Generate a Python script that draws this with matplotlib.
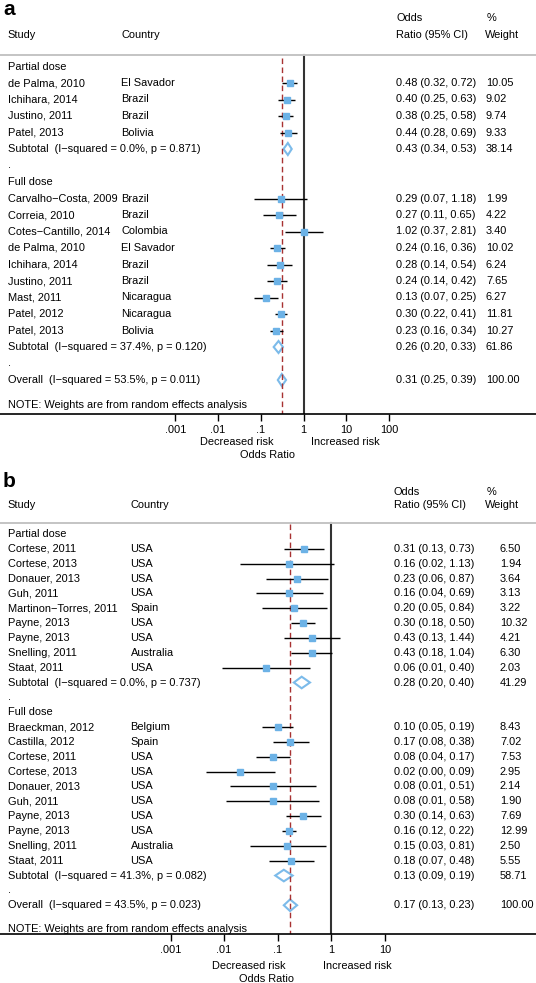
import numpy as np
import matplotlib
matplotlib.use('Agg')
import matplotlib.pyplot as plt
from matplotlib.patches import Polygon
from matplotlib.transforms import blended_transform_factory

plt.rcParams['font.family'] = ['Liberation Sans', 'DejaVu Sans']
plt.rcParams['font.size'] = 7.9

W, H = 536, 983

# ---- panel a ----
a_part_study = ['de Palma, 2010', 'Ichihara, 2014', 'Justino, 2011', 'Patel, 2013']
a_part_country = ['El Savador', 'Brazil', 'Brazil', 'Bolivia']
a_part_or = [0.48, 0.40, 0.38, 0.44]
a_part_lo = [0.32, 0.25, 0.25, 0.28]
a_part_hi = [0.72, 0.63, 0.58, 0.69]
a_part_wt = [10.05, 9.02, 9.74, 9.33]
a_part_sub = [0.43, 0.34, 0.53, 38.14]
a_part_het = ['0.0%', '0.871']

a_full_study = ['Carvalho\u2212Costa, 2009', 'Correia, 2010', 'Cotes\u2212Cantillo, 2014',
                'de Palma, 2010', 'Ichihara, 2014', 'Justino, 2011', 'Mast, 2011',
                'Patel, 2012', 'Patel, 2013']
a_full_country = ['Brazil', 'Brazil', 'Colombia', 'El Savador', 'Brazil', 'Brazil',
                  'Nicaragua', 'Nicaragua', 'Bolivia']
a_full_or = [0.29, 0.27, 1.02, 0.24, 0.28, 0.24, 0.13, 0.30, 0.23]
a_full_lo = [0.07, 0.11, 0.37, 0.16, 0.14, 0.14, 0.07, 0.22, 0.16]
a_full_hi = [1.18, 0.65, 2.81, 0.36, 0.54, 0.42, 0.25, 0.41, 0.34]
a_full_wt = [1.99, 4.22, 3.40, 10.02, 6.24, 7.65, 6.27, 11.81, 10.27]
a_full_sub = [0.26, 0.20, 0.33, 61.86]
a_full_het = ['37.4%', '0.120']

a_overall = [0.31, 0.25, 0.39, 100.00]
a_overall_het = ['53.5%', '0.011']
a_ticks = [0.001, 0.01, 0.1, 1, 10, 100]
a_ticklabels = ['.001', '.01', '.1', '1', '10', '100']

# ---- panel b ----
b_part_study = ['Cortese, 2011', 'Cortese, 2013', 'Donauer, 2013', 'Guh, 2011',
                'Martinon\u2212Torres, 2011', 'Payne, 2013', 'Payne, 2013',
                'Snelling, 2011', 'Staat, 2011']
b_part_country = ['USA', 'USA', 'USA', 'USA', 'Spain', 'USA', 'USA', 'Australia', 'USA']
b_part_or = [0.31, 0.16, 0.23, 0.16, 0.20, 0.30, 0.43, 0.43, 0.06]
b_part_lo = [0.13, 0.02, 0.06, 0.04, 0.05, 0.18, 0.13, 0.18, 0.009]
b_part_hi = [0.73, 1.13, 0.87, 0.69, 0.84, 0.50, 1.44, 1.04, 0.40]
b_part_wt = [6.50, 1.94, 3.64, 3.13, 3.22, 10.32, 4.21, 6.30, 2.03]
b_part_sub = [0.28, 0.20, 0.40, 41.29]
b_part_het = ['0.0%', '0.737']

b_full_study = ['Braeckman, 2012', 'Castilla, 2012', 'Cortese, 2011', 'Cortese, 2013',
                'Donauer, 2013', 'Guh, 2011', 'Payne, 2013', 'Payne, 2013',
                'Snelling, 2011', 'Staat, 2011']
b_full_country = ['Belgium', 'Spain', 'USA', 'USA', 'USA', 'USA', 'USA', 'USA',
                  'Australia', 'USA']
b_full_or = [0.10, 0.17, 0.08, 0.02, 0.08, 0.08, 0.30, 0.16, 0.15, 0.18]
b_full_lo = [0.05, 0.08, 0.04, 0.0045, 0.013, 0.011, 0.14, 0.12, 0.03, 0.07]
b_full_hi = [0.19, 0.38, 0.17, 0.09, 0.51, 0.58, 0.63, 0.22, 0.81, 0.48]
b_full_wt = [8.43, 7.02, 7.53, 2.95, 2.14, 1.90, 7.69, 12.99, 2.50, 5.55]
b_full_sub = [0.13, 0.09, 0.19, 58.71]
b_full_het = ['41.3%', '0.082']

b_overall = [0.17, 0.13, 0.23, 100.00]
b_overall_het = ['43.5%', '0.023']
b_ticks = [0.001, 0.01, 0.1, 1, 10]
b_ticklabels = ['.001', '.01', '.1', '1', '10']

SQ = '#6cb2e6'
DIA = '#7cbbea'
RED = '#a83232'

fig = plt.figure(figsize=(W / 100, H / 100), dpi=100)


def fmt_or(e, l, h):
    return f'{e:.2f} ({l:.2f}, {h:.2f})'


def draw_panel(label, groups, overall, overall_het, ticks, ticklabels, g):
    top, axis_y = g['top'], g['axis']
    ax = fig.add_axes([0, 1 - axis_y / H, 1, (axis_y - top) / H])
    ax.set_xscale('log')
    ax.set_xlim(10 ** ((0 - g['x1']) / g['dec']), 10 ** ((W - g['x1']) / g['dec']))
    r_top = (top - g['y0']) / g['dy']
    r_bot = (axis_y - g['y0']) / g['dy']
    ax.set_ylim(r_bot, r_top)
    for s in ['top', 'left', 'right']:
        ax.spines[s].set_visible(False)
    ax.spines['bottom'].set_linewidth(1.2)
    ax.set_yticks([])
    ax.set_xticks(ticks)
    ax.set_xticklabels(ticklabels)
    ax.minorticks_off()
    ax.tick_params(axis='x', direction='out', length=5, width=1, pad=3, labelsize=7.9)

    tr = blended_transform_factory(fig.transFigure, ax.transData)
    cx = lambda px: px / W

    def txt(px, r, s, **kw):
        ax.text(cx(px), r, s, transform=tr, va='center', ha='left', **kw)

    # header
    r_odds = (g['odds_y'] - g['y0']) / g['dy']
    r_study = (g['study_y'] - g['y0']) / g['dy']
    txt(g['c_study'], r_study, 'Study')
    txt(g['c_country'], r_study, 'Country')
    txt(g['c_or'], r_odds, 'Odds')
    txt(g['c_or'], r_study, 'Ratio (95% CI)')
    txt(g['c_pct'], r_odds, '%')
    txt(g['c_whead'], r_study, 'Weight')
    r_sep = (g['sep'] - g['y0']) / g['dy']
    ax.axhline(r_sep, color='#c4c4c4', lw=1.4, clip_on=False)

    hd = g['dh'] / g['dy']
    r = 0
    for name, st, co, e, l, h, w, sub, het in groups:
        txt(g['c_study'], r, name)
        r += 1
        for i in range(len(st)):
            txt(g['c_study'], r, st[i])
            txt(g['c_country'], r, co[i])
            txt(g['c_or'], r, fmt_or(e[i], l[i], h[i]))
            txt(g['c_w'], r, f'{w[i]:.2f}')
            ax.plot([l[i], h[i]], [r, r], color='black', lw=1.0, solid_capstyle='butt')
            ax.plot(e[i], r, marker='s', ms=3.8, color=SQ, mec=SQ)
            r += 1
        txt(g['c_study'], r, f'Subtotal  (I\u2212squared = {het[0]}, p = {het[1]})')
        txt(g['c_or'], r, fmt_or(sub[0], sub[1], sub[2]))
        txt(g['c_w'], r, f'{sub[3]:.2f}')
        ax.add_patch(Polygon([(sub[1], r), (sub[0], r - hd), (sub[2], r), (sub[0], r + hd)],
                             closed=True, fill=False, ec=DIA, lw=1.5))
        r += 1
        txt(g['c_study'], r, '.')
        r += 1
    txt(g['c_study'], r, f'Overall  (I\u2212squared = {overall_het[0]}, p = {overall_het[1]})')
    txt(g['c_or'], r, fmt_or(overall[0], overall[1], overall[2]))
    txt(g['c_w'], r, f'{overall[3]:.2f}')
    ax.add_patch(Polygon([(overall[1], r), (overall[0], r - hd), (overall[2], r),
                          (overall[0], r + hd)], closed=True, fill=False, ec=DIA, lw=1.5))
    r_note = (g['note'] - g['y0']) / g['dy']
    txt(g['c_study'], r_note, 'NOTE: Weights are from random effects analysis')

    # reference lines
    ax.plot([1, 1], [r_sep, r_bot], color='#333333', lw=1.5, zorder=1)
    r_dash = (g['dash_top'] - g['y0']) / g['dy']
    ax.plot([overall[0]] * 2, [r_dash, r_bot], color=RED, lw=1.0, ls=(0, (4, 2.5)), zorder=1)

    # below axis labels
    fig.text(g['dec_x'] / W, 1 - g['risk_y'] / H, 'Decreased risk', ha='center', va='center')
    fig.text(g['inc_x'] / W, 1 - g['risk_y'] / H, 'Increased risk', ha='center', va='center')
    fig.text(g['lab_x'] / W, 1 - g['lab_y'] / H, 'Odds Ratio', ha='center', va='center')
    fig.text(3 / W, 1 - g['panel_y'] / H, label, fontsize=15, fontweight='bold',
             ha='left', va='baseline')
    return ax


geom_a = dict(top=0, axis=414, x1=303.5, dec=42.7, y0=66.5, dy=16.5, dh=6,
              odds_y=17.8, study_y=34.9, sep=54.5, dash_top=58, note=405,
              c_study=7.9, c_country=121, c_or=396.5, c_pct=486.5, c_whead=484.5, c_w=486,
              dec_x=236.7, inc_x=345, risk_y=442, lab_x=267.7, lab_y=455, panel_y=15)
geom_b = dict(top=470, axis=934.3, x1=331.3, dec=53.6, y0=534, dy=14.85, dh=5.8,
              odds_y=492, study_y=505, sep=522.7, dash_top=524, note=928.7,
              c_study=7.9, c_country=130.5, c_or=394, c_pct=486.5, c_whead=484.5, c_w=500,
              dec_x=248.7, inc_x=357, risk_y=966, lab_x=266.7, lab_y=979, panel_y=487)

draw_panel('a',
           [('Partial dose', a_part_study, a_part_country, a_part_or, a_part_lo, a_part_hi,
             a_part_wt, a_part_sub, a_part_het),
            ('Full dose', a_full_study, a_full_country, a_full_or, a_full_lo, a_full_hi,
             a_full_wt, a_full_sub, a_full_het)],
           a_overall, a_overall_het, a_ticks, a_ticklabels, geom_a)
draw_panel('b',
           [('Partial dose', b_part_study, b_part_country, b_part_or, b_part_lo, b_part_hi,
             b_part_wt, b_part_sub, b_part_het),
            ('Full dose', b_full_study, b_full_country, b_full_or, b_full_lo, b_full_hi,
             b_full_wt, b_full_sub, b_full_het)],
           b_overall, b_overall_het, b_ticks, b_ticklabels, geom_b)

fig.savefig('out.png', dpi=100)
